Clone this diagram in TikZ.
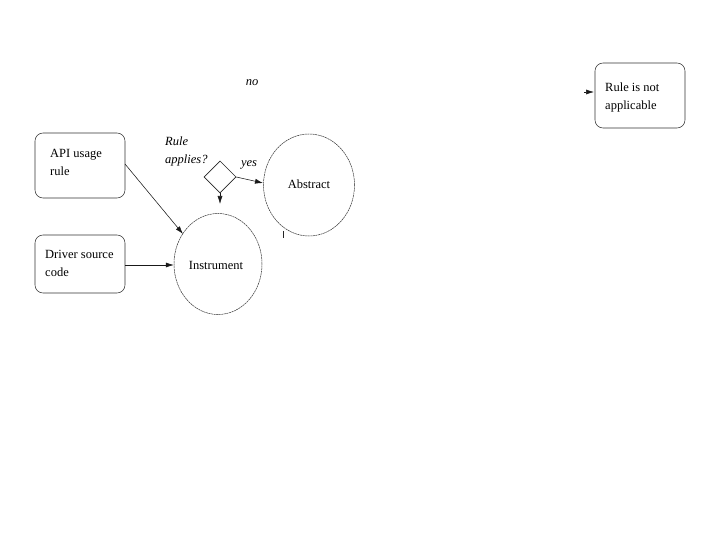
\documentclass[tikz,border=0pt]{standalone}
\usepackage{fontspec}
\setmainfont{Liberation Serif}
\usetikzlibrary{shapes.geometric,arrows.meta}
\begin{document}
\begin{tikzpicture}[x=1pt,y=-1pt,
  every node/.style={font=\fontsize{12.5}{18}\selectfont},
  box/.style={draw=black!80, rounded corners=8pt, minimum width=90pt, line width=0.55pt, inner sep=0pt},
  txt/.style={anchor=west, align=left, inner sep=0pt},
  lbl/.style={font=\fontsize{12.5}{18}\selectfont\itshape, inner sep=0pt, align=left},
  circ/.style={draw=black!80, ellipse, line width=0.5pt, dash pattern=on 2pt off 0.6pt, inner sep=0pt},
  dec/.style={draw=black!85, diamond, minimum size=32pt, inner sep=0pt, line width=0.55pt},
  arr/.style={draw=black!90, line width=0.55pt, -{Latex[length=8pt,width=5pt]}}
]
\useasboundingbox[fill=white] (0,0) rectangle (720,540);
% boxes
\node[box, minimum height=65pt] (api) at (80,165.5) {};
\node[txt] (apit) at (50,162) {API usage\\rule};
\node[box, minimum height=58pt] (drv) at (80,264) {};
\node[txt] (drvt) at (45,263) {Driver source\\code};
\node[box, minimum height=65pt] (na) at (640,95.5) {};
\node[txt] (nat) at (605,97) {Rule is not\\applicable};
% circles
\node[circ, minimum width=88pt, minimum height=101pt] (ins) at (218,264) {};
\node (inst) at (216,265.5) {Instrument};
\node[circ, minimum width=91pt, minimum height=102pt] (abs) at (309,185) {};
\node (abst) at (309,184) {Abstract};
% decision
\node[dec] (d) at (220,177) {};
\node[lbl, anchor=west] (q) at (165,151) {Rule\\applies?};
\node[lbl] (yes) at (249,165) {yes};
\node[lbl] (no) at (252,83) {no};
% connectors
\coordinate (apiout) at (125,164);
\coordinate (insin) at (183,234);
\draw[arr] (apiout) -- (insin);
\draw[arr] (drv.east |- 0,265) -- (ins.west |- 0,265);
\draw[arr] (d.east) -- (263,183);
\coordinate (dn) at (220,204);
\draw[arr] (d.south) -- (dn);
\coordinate (noa) at (584,92);
\coordinate (nob) at (594,92);
\draw[arr] (noa) -- (nob);
\coordinate (tk1) at (283,231);
\coordinate (tk2) at (283,238);
\draw[black!85, line width=0.6pt] (tk1) -- (tk2);
\end{tikzpicture}
\end{document}
